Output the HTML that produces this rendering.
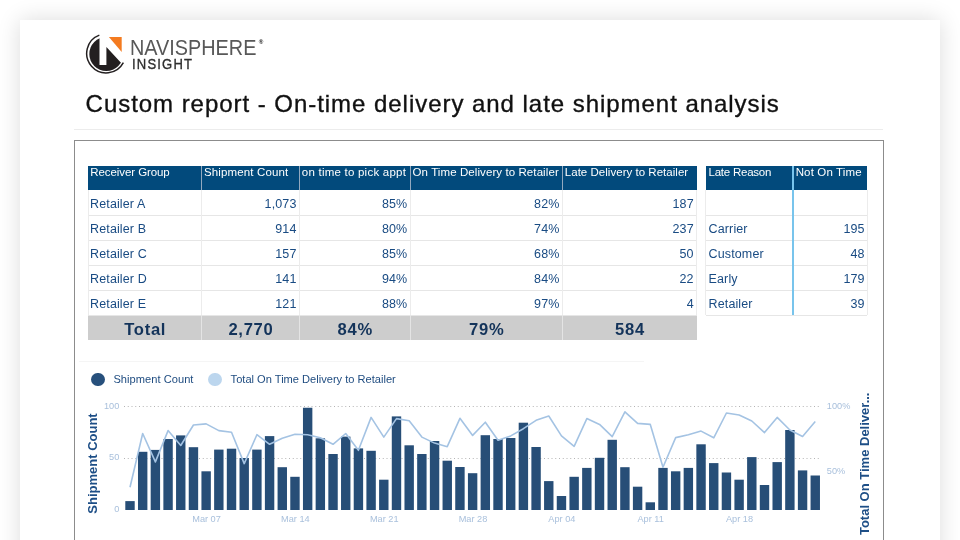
<!DOCTYPE html>
<html><head><meta charset="utf-8"><style>
html,body{margin:0;padding:0;background:#fff;width:960px;height:540px;overflow:hidden;font-family:"Liberation Sans", sans-serif;}
.card{position:absolute;left:20px;top:20px;width:920px;height:620px;background:#fff;box-shadow:0 0 22px rgba(0,0,0,0.14);}
.layer{position:absolute;left:0;top:0;width:960px;height:540px;will-change:transform;}
.abs{position:absolute;white-space:nowrap;}
.t{position:absolute;white-space:nowrap;}
.hd{position:absolute;background:#024a7c;}
.hsep{position:absolute;width:1px;background:#93a9bf;}
.rsep{position:absolute;height:1px;background:#e6e6e6;}
.vsep{position:absolute;width:1px;background:#ececec;}
.tot{position:absolute;background:#cdcdcd;}
.tsep{position:absolute;width:1px;background:#e4e4e4;}
.bsep{position:absolute;width:2px;background:#78c4ec;}
</style></head><body>
<div class="card"></div>
<div class="layer">
<svg class="abs" style="left:84px;top:32px" width="44" height="44" viewBox="84 32 44 44">
 <defs><clipPath id="lc"><circle cx="106.3" cy="54" r="17"/></clipPath></defs>
 <path clip-path="url(#lc)" d="M80 30 L99.5 30 L99.5 65 L106.4 65 L106.4 47.1 L130 72.6 L130 80 L80 80 Z" fill="#231f20"/>
 <path d="M99.34 35.15 A19.5 19.5 0 1 0 123.37 62.65" fill="none" stroke="#231f20" stroke-width="1.5"/>
 <polygon points="108.9,37.1 121.7,37.1 121.7,52" fill="#f47b20"/>
</svg>
<div class="t" style="left:130.4px;top:33.85px;font-size:21.8px;line-height:28px;color:#585858;transform:scaleX(0.91);transform-origin:0 0">NAVISPHERE</div>
<div class="t" style="left:258.8px;top:38.3px;font-size:6.2px;line-height:8px;color:#222;font-weight:bold">&reg;</div>
<div class="t" style="top:54.45px;font-size:15px;line-height:19.5px;color:#2e2e2e;left:131.90px;-webkit-text-stroke:0.35px #2e2e2e;letter-spacing:1.35px;transform:scaleX(0.87);transform-origin:0 0;">INSIGHT</div>
<div class="t" style="top:88.18px;font-size:24px;line-height:31.2px;color:#111;letter-spacing:0.959px;left:85.60px;-webkit-text-stroke:0.35px #111;">Custom report - On-time delivery and late shipment analysis</div>
<div class="abs" style="left:74px;top:129px;width:809px;height:1px;background:#ececec"></div>
<div class="abs" style="left:74px;top:140px;width:808px;height:420px;border:1px solid #8c8c8c"></div>
<div class="hd" style="left:88px;top:165.8px;width:608.7px;height:23.799999999999983px"></div>
<div class="hsep" style="left:201.2px;top:165.8px;height:23.799999999999983px"></div>
<div class="hsep" style="left:299.0px;top:165.8px;height:23.799999999999983px"></div>
<div class="hsep" style="left:409.8px;top:165.8px;height:23.799999999999983px"></div>
<div class="hsep" style="left:562.0px;top:165.8px;height:23.799999999999983px"></div>
<div class="t" style="top:164.54px;font-size:11.5px;line-height:14.95px;color:#fff;letter-spacing:-0.082px;left:90.30px;">Receiver Group</div>
<div class="t" style="top:164.54px;font-size:11.5px;line-height:14.95px;color:#fff;letter-spacing:0.138px;left:204.00px;">Shipment Count</div>
<div class="t" style="top:164.54px;font-size:11.5px;line-height:14.95px;color:#fff;letter-spacing:0.228px;left:301.80px;">on time to pick appt</div>
<div class="t" style="top:164.54px;font-size:11.5px;line-height:14.95px;color:#fff;letter-spacing:0.086px;left:412.60px;">On Time Delivery to Retailer</div>
<div class="t" style="top:164.54px;font-size:11.5px;line-height:14.95px;color:#fff;letter-spacing:0.027px;left:564.80px;">Late Delivery to Retailer</div>
<div class="rsep" style="left:88px;top:214.7px;width:608.7px"></div>
<div class="t" style="top:195.59px;font-size:12.5px;line-height:16.25px;color:#194b83;left:90.10px;letter-spacing:0.12px;">Retailer A</div>
<div class="t" style="top:195.59px;font-size:12.5px;line-height:16.25px;color:#194b83;right:663.50px;letter-spacing:0.12px;">1,073</div>
<div class="t" style="top:195.59px;font-size:12.5px;line-height:16.25px;color:#194b83;right:552.70px;letter-spacing:0.12px;">85%</div>
<div class="t" style="top:195.59px;font-size:12.5px;line-height:16.25px;color:#194b83;right:400.50px;letter-spacing:0.12px;">82%</div>
<div class="t" style="top:195.59px;font-size:12.5px;line-height:16.25px;color:#194b83;right:266.30px;letter-spacing:0.12px;">187</div>
<div class="rsep" style="left:88px;top:239.85px;width:608.7px"></div>
<div class="t" style="top:221.19px;font-size:12.5px;line-height:16.25px;color:#194b83;left:90.10px;letter-spacing:0.12px;">Retailer B</div>
<div class="t" style="top:221.19px;font-size:12.5px;line-height:16.25px;color:#194b83;right:663.50px;letter-spacing:0.12px;">914</div>
<div class="t" style="top:221.19px;font-size:12.5px;line-height:16.25px;color:#194b83;right:552.70px;letter-spacing:0.12px;">80%</div>
<div class="t" style="top:221.19px;font-size:12.5px;line-height:16.25px;color:#194b83;right:400.50px;letter-spacing:0.12px;">74%</div>
<div class="t" style="top:221.19px;font-size:12.5px;line-height:16.25px;color:#194b83;right:266.30px;letter-spacing:0.12px;">237</div>
<div class="rsep" style="left:88px;top:264.9px;width:608.7px"></div>
<div class="t" style="top:246.34px;font-size:12.5px;line-height:16.25px;color:#194b83;left:90.10px;letter-spacing:0.12px;">Retailer C</div>
<div class="t" style="top:246.34px;font-size:12.5px;line-height:16.25px;color:#194b83;right:663.50px;letter-spacing:0.12px;">157</div>
<div class="t" style="top:246.34px;font-size:12.5px;line-height:16.25px;color:#194b83;right:552.70px;letter-spacing:0.12px;">85%</div>
<div class="t" style="top:246.34px;font-size:12.5px;line-height:16.25px;color:#194b83;right:400.50px;letter-spacing:0.12px;">68%</div>
<div class="t" style="top:246.34px;font-size:12.5px;line-height:16.25px;color:#194b83;right:266.30px;letter-spacing:0.12px;">50</div>
<div class="rsep" style="left:88px;top:290.0px;width:608.7px"></div>
<div class="t" style="top:271.39px;font-size:12.5px;line-height:16.25px;color:#194b83;left:90.10px;letter-spacing:0.12px;">Retailer D</div>
<div class="t" style="top:271.39px;font-size:12.5px;line-height:16.25px;color:#194b83;right:663.50px;letter-spacing:0.12px;">141</div>
<div class="t" style="top:271.39px;font-size:12.5px;line-height:16.25px;color:#194b83;right:552.70px;letter-spacing:0.12px;">94%</div>
<div class="t" style="top:271.39px;font-size:12.5px;line-height:16.25px;color:#194b83;right:400.50px;letter-spacing:0.12px;">84%</div>
<div class="t" style="top:271.39px;font-size:12.5px;line-height:16.25px;color:#194b83;right:266.30px;letter-spacing:0.12px;">22</div>
<div class="rsep" style="left:88px;top:315.0px;width:608.7px"></div>
<div class="t" style="top:296.49px;font-size:12.5px;line-height:16.25px;color:#194b83;left:90.10px;letter-spacing:0.12px;">Retailer E</div>
<div class="t" style="top:296.49px;font-size:12.5px;line-height:16.25px;color:#194b83;right:663.50px;letter-spacing:0.12px;">121</div>
<div class="t" style="top:296.49px;font-size:12.5px;line-height:16.25px;color:#194b83;right:552.70px;letter-spacing:0.12px;">88%</div>
<div class="t" style="top:296.49px;font-size:12.5px;line-height:16.25px;color:#194b83;right:400.50px;letter-spacing:0.12px;">97%</div>
<div class="t" style="top:296.49px;font-size:12.5px;line-height:16.25px;color:#194b83;right:266.30px;letter-spacing:0.12px;">4</div>
<div class="vsep" style="left:87.5px;top:189.6px;height:125.9px"></div>
<div class="vsep" style="left:201.2px;top:189.6px;height:125.9px"></div>
<div class="vsep" style="left:299.0px;top:189.6px;height:125.9px"></div>
<div class="vsep" style="left:409.8px;top:189.6px;height:125.9px"></div>
<div class="vsep" style="left:562.0px;top:189.6px;height:125.9px"></div>
<div class="vsep" style="left:696.2px;top:189.6px;height:125.9px"></div>
<div class="tot" style="left:88px;top:315.5px;width:608.7px;height:24.69999999999999px"></div>
<div class="tsep" style="left:201.2px;top:315.5px;height:24.69999999999999px"></div>
<div class="tsep" style="left:299.0px;top:315.5px;height:24.69999999999999px"></div>
<div class="tsep" style="left:409.8px;top:315.5px;height:24.69999999999999px"></div>
<div class="tsep" style="left:562.0px;top:315.5px;height:24.69999999999999px"></div>
<div class="t" style="top:318.86px;font-size:16.6px;line-height:21.58px;color:#13335a;font-weight:bold;left:-54.80px;width:400px;text-align:center;letter-spacing:0.7px;">Total</div>
<div class="t" style="top:318.86px;font-size:16.6px;line-height:21.58px;color:#13335a;font-weight:bold;left:50.95px;width:400px;text-align:center;letter-spacing:0.7px;">2,770</div>
<div class="t" style="top:318.86px;font-size:16.6px;line-height:21.58px;color:#13335a;font-weight:bold;left:155.25px;width:400px;text-align:center;letter-spacing:0.7px;">84%</div>
<div class="t" style="top:318.86px;font-size:16.6px;line-height:21.58px;color:#13335a;font-weight:bold;left:286.75px;width:400px;text-align:center;letter-spacing:0.7px;">79%</div>
<div class="t" style="top:318.86px;font-size:16.6px;line-height:21.58px;color:#13335a;font-weight:bold;left:429.95px;width:400px;text-align:center;letter-spacing:0.7px;">584</div>
<div class="hd" style="left:705.8px;top:165.8px;width:161.5px;height:23.799999999999983px"></div>
<div class="t" style="top:164.54px;font-size:11.5px;line-height:14.95px;color:#fff;letter-spacing:-0.229px;left:708.50px;">Late Reason</div>
<div class="t" style="top:164.54px;font-size:11.5px;line-height:14.95px;color:#fff;letter-spacing:0.131px;left:795.70px;">Not On Time</div>
<div class="rsep" style="left:705.8px;top:214.7px;width:161.5px"></div>
<div class="rsep" style="left:705.8px;top:239.85px;width:161.5px"></div>
<div class="t" style="top:221.19px;font-size:12.5px;line-height:16.25px;color:#194b83;left:708.60px;letter-spacing:0.12px;">Carrier</div>
<div class="t" style="top:221.19px;font-size:12.5px;line-height:16.25px;color:#194b83;right:95.40px;letter-spacing:0.12px;">195</div>
<div class="rsep" style="left:705.8px;top:264.9px;width:161.5px"></div>
<div class="t" style="top:246.34px;font-size:12.5px;line-height:16.25px;color:#194b83;left:708.60px;letter-spacing:0.12px;">Customer</div>
<div class="t" style="top:246.34px;font-size:12.5px;line-height:16.25px;color:#194b83;right:95.40px;letter-spacing:0.12px;">48</div>
<div class="rsep" style="left:705.8px;top:290.0px;width:161.5px"></div>
<div class="t" style="top:271.39px;font-size:12.5px;line-height:16.25px;color:#194b83;left:708.60px;letter-spacing:0.12px;">Early</div>
<div class="t" style="top:271.39px;font-size:12.5px;line-height:16.25px;color:#194b83;right:95.40px;letter-spacing:0.12px;">179</div>
<div class="rsep" style="left:705.8px;top:315.0px;width:161.5px"></div>
<div class="t" style="top:296.49px;font-size:12.5px;line-height:16.25px;color:#194b83;left:708.60px;letter-spacing:0.12px;">Retailer</div>
<div class="t" style="top:296.49px;font-size:12.5px;line-height:16.25px;color:#194b83;right:95.40px;letter-spacing:0.12px;">39</div>
<div class="vsep" style="left:705.3px;top:189.6px;height:125.9px"></div>
<div class="vsep" style="left:866.8px;top:189.6px;height:125.9px"></div>
<div class="bsep" style="left:792px;top:165.8px;height:149.7px"></div>
<div class="abs" style="left:79px;top:361px;width:565px;height:1px;background:#f5f5f5"></div>
<div class="abs" style="left:91.4px;top:372.6px;width:13.5px;height:13.5px;border-radius:50%;background:#27507c"></div>
<div class="t" style="top:372.14px;font-size:11.1px;line-height:14.43px;color:#1f4c80;letter-spacing:0.038px;left:113.40px;">Shipment Count</div>
<div class="abs" style="left:208.1px;top:372.6px;width:13.5px;height:13.5px;border-radius:50%;background:#bcd6ee"></div>
<div class="t" style="top:372.14px;font-size:11.1px;line-height:14.43px;color:#1f4c80;letter-spacing:-0.001px;left:230.60px;">Total On Time Delivery to Retailer</div>
<svg class="abs" style="left:0;top:0" width="960" height="540" viewBox="0 0 960 540">
 <g stroke="#b4b4b4" stroke-width="1" stroke-dasharray="1 2.75">
  <line x1="124" y1="406.5" x2="821" y2="406.5"/>
  <line x1="124" y1="458.5" x2="821" y2="458.5"/>
 </g>
 <g fill="#274e77">
<rect x="125.30" y="501.10" width="9.4" height="8.90"/>
<rect x="137.99" y="451.80" width="9.4" height="58.20"/>
<rect x="150.68" y="449.90" width="9.4" height="60.10"/>
<rect x="163.37" y="439.00" width="9.4" height="71.00"/>
<rect x="176.06" y="435.40" width="9.4" height="74.60"/>
<rect x="188.75" y="447.20" width="9.4" height="62.80"/>
<rect x="201.44" y="471.30" width="9.4" height="38.70"/>
<rect x="214.13" y="449.60" width="9.4" height="60.40"/>
<rect x="226.82" y="448.70" width="9.4" height="61.30"/>
<rect x="239.51" y="458.00" width="9.4" height="52.00"/>
<rect x="252.20" y="449.60" width="9.4" height="60.40"/>
<rect x="264.89" y="436.10" width="9.4" height="73.90"/>
<rect x="277.58" y="467.20" width="9.4" height="42.80"/>
<rect x="290.27" y="476.80" width="9.4" height="33.20"/>
<rect x="302.96" y="407.75" width="9.4" height="102.25"/>
<rect x="315.65" y="438.30" width="9.4" height="71.70"/>
<rect x="328.34" y="454.00" width="9.4" height="56.00"/>
<rect x="341.03" y="436.60" width="9.4" height="73.40"/>
<rect x="353.72" y="448.40" width="9.4" height="61.60"/>
<rect x="366.41" y="450.80" width="9.4" height="59.20"/>
<rect x="379.10" y="479.70" width="9.4" height="30.30"/>
<rect x="391.79" y="416.40" width="9.4" height="93.60"/>
<rect x="404.48" y="445.30" width="9.4" height="64.70"/>
<rect x="417.17" y="454.00" width="9.4" height="56.00"/>
<rect x="429.86" y="441.00" width="9.4" height="69.00"/>
<rect x="442.55" y="460.70" width="9.4" height="49.30"/>
<rect x="455.24" y="467.00" width="9.4" height="43.00"/>
<rect x="467.93" y="473.20" width="9.4" height="36.80"/>
<rect x="480.62" y="435.20" width="9.4" height="74.80"/>
<rect x="493.31" y="439.00" width="9.4" height="71.00"/>
<rect x="506.00" y="438.00" width="9.4" height="72.00"/>
<rect x="518.69" y="422.70" width="9.4" height="87.30"/>
<rect x="531.38" y="447.00" width="9.4" height="63.00"/>
<rect x="544.07" y="481.10" width="9.4" height="28.90"/>
<rect x="556.76" y="496.00" width="9.4" height="14.00"/>
<rect x="569.45" y="476.80" width="9.4" height="33.20"/>
<rect x="582.14" y="467.90" width="9.4" height="42.10"/>
<rect x="594.83" y="457.80" width="9.4" height="52.20"/>
<rect x="607.52" y="439.80" width="9.4" height="70.20"/>
<rect x="620.21" y="467.20" width="9.4" height="42.80"/>
<rect x="632.90" y="486.70" width="9.4" height="23.30"/>
<rect x="645.59" y="502.30" width="9.4" height="7.70"/>
<rect x="658.28" y="467.90" width="9.4" height="42.10"/>
<rect x="670.97" y="471.30" width="9.4" height="38.70"/>
<rect x="683.66" y="467.90" width="9.4" height="42.10"/>
<rect x="696.35" y="444.30" width="9.4" height="65.70"/>
<rect x="709.04" y="463.10" width="9.4" height="46.90"/>
<rect x="721.73" y="472.50" width="9.4" height="37.50"/>
<rect x="734.42" y="479.70" width="9.4" height="30.30"/>
<rect x="747.11" y="457.10" width="9.4" height="52.90"/>
<rect x="759.80" y="485.00" width="9.4" height="25.00"/>
<rect x="772.49" y="462.10" width="9.4" height="47.90"/>
<rect x="785.18" y="430.00" width="9.4" height="80.00"/>
<rect x="797.87" y="470.40" width="9.4" height="39.60"/>
<rect x="810.56" y="475.50" width="9.4" height="34.50"/>
 </g>
 <polyline points="130.00,487.20 142.69,433.50 155.38,461.90 168.07,430.60 180.76,445.50 193.45,425.00 206.14,423.90 218.83,430.60 231.52,432.30 244.21,463.60 256.90,434.70 269.59,444.30 282.28,438.30 294.97,434.20 307.66,434.70 320.35,437.80 333.04,444.30 345.73,433.50 358.42,450.30 371.11,417.40 383.80,437.10 396.49,418.60 409.18,420.70 421.87,437.10 434.56,443.10 447.25,446.70 459.94,418.30 472.63,435.40 485.32,422.20 498.01,440.20 510.70,435.90 523.39,428.70 536.08,420.30 548.77,416.00 561.46,435.90 574.15,446.30 586.84,418.60 599.53,424.40 612.22,436.60 624.91,411.80 637.60,423.40 650.29,424.40 662.98,467.20 675.67,437.60 688.36,434.70 701.05,431.10 713.74,437.80 726.43,413.00 739.12,415.00 751.81,421.00 764.50,432.60 777.19,417.40 789.88,430.00 802.57,436.50 815.26,421.50" fill="none" stroke="#a4c3e3" stroke-width="1.6" stroke-linejoin="round"/>
 <g font-family='"Liberation Sans", sans-serif' font-size="9.2" fill="#a9c0dc">
  <text x="119.3" y="408.5" text-anchor="end">100</text>
  <text x="119.3" y="460.2" text-anchor="end">50</text>
  <text x="119.3" y="511.9" text-anchor="end">0</text>
  <text x="826.8" y="409.0">100%</text>
  <text x="826.8" y="473.6">50%</text>
<text x="206.54" y="521.6" text-anchor="middle">Mar 07</text>
<text x="295.37" y="521.6" text-anchor="middle">Mar 14</text>
<text x="384.20" y="521.6" text-anchor="middle">Mar 21</text>
<text x="473.03" y="521.6" text-anchor="middle">Mar 28</text>
<text x="561.86" y="521.6" text-anchor="middle">Apr 04</text>
<text x="650.69" y="521.6" text-anchor="middle">Apr 11</text>
<text x="739.52" y="521.6" text-anchor="middle">Apr 18</text>
 </g>
 <text transform="translate(97,463.5) rotate(-90)" text-anchor="middle" font-family='"Liberation Sans", sans-serif' font-size="13" font-weight="bold" fill="#1d4e86">Shipment Count</text>
 <text transform="translate(869,463.8) rotate(-90)" text-anchor="middle" font-family='"Liberation Sans", sans-serif' font-size="13" font-weight="bold" fill="#1d4e86">Total On Time Deliver...</text>
</svg>
</div>
</body></html>
